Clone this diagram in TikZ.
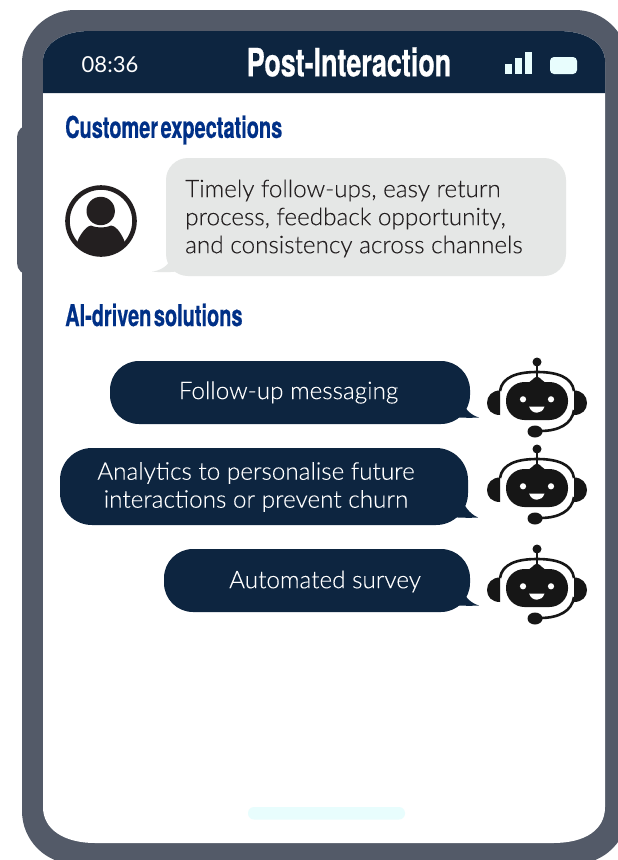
\documentclass[tikz,border=0pt]{standalone}
\usepackage{fontspec}
\setmainfont[FakeBold=0.12]{Lato Light}
\newfontfamily\clockfont{Lato}
\newfontfamily\condfont[FakeStretch=0.69,WordSpace=0.45,BoldFeatures={FakeBold=0.5}]{TeX Gyre Heros}
\newfontfamily\sectfont[FakeStretch=0.665,WordSpace=0.45,BoldFeatures={FakeBold=0.5}]{TeX Gyre Heros}
\definecolor{frameC}{HTML}{535A68}
\definecolor{navyC}{HTML}{0D2540}
\definecolor{greyC}{HTML}{E5E7E6}
\definecolor{headC}{HTML}{003087}
\definecolor{iceC}{HTML}{E8FDFD}
\definecolor{inkC}{HTML}{231F20}
\definecolor{botC}{HTML}{161616}
\tikzset{
  sechead/.style={anchor=west,inner sep=0pt,text=headC,font=\sectfont\bfseries\fontsize{30}{30}\selectfont},
  bodytext/.style={inner sep=0pt,align=left,text=inkC,font=\fontsize{24.3}{28}\selectfont},
  whitetext/.style={inner sep=0pt,align=center,text=white,font=\fontsize{24.3}{28}\selectfont},
  darkbubble/.style={fill=navyC,draw=none,rounded corners=29pt,inner sep=0pt},
  greybubble/.style={fill=greyC,draw=none,rounded corners=22pt,inner sep=0pt},
  robot/.pic={
    \fill[botC] (0,-38) circle [radius=4.5];
    \draw[botC,line width=2.6pt] (0,-36) -- (0,-20);
    \draw[botC,line width=2.6pt] (-37,-9) .. controls (-35,-23) and (-20,-28) .. (0,-28)
       .. controls (20,-28) and (35,-23) .. (37,-9);
    \fill[botC] (-37,-9.5) .. controls (-45,-9.5) and (-50,-4) .. (-50,3) .. controls (-50,10) and (-45,15) .. (-37,15) -- cycle;
    \fill[botC] (37,-9.5) .. controls (45,-9.5) and (50,-4) .. (50,3) .. controls (50,10) and (45,15) .. (37,15) -- cycle;
    \draw[botC,line width=2.6pt] (37,10) .. controls (35,24) and (22,31) .. (3,31);
    \fill[botC] (-2,31.5) ellipse [x radius=7.5,y radius=6];
    \fill[botC] (-11,-17) .. controls (-6,-17) and (-4,-22.5) .. (0,-23.5) .. controls (4,-22.5) and (6,-17) .. (11,-17) -- cycle;
    \fill[botC,rounded corners=18.5pt] (-31,-18) rectangle (31,20);
    \fill[white] (-14,-0.7) circle [radius=3.1];
    \fill[white] (14,-0.7) circle [radius=3.1];
    \fill[white] (-8,6.5) -- (7.5,6.5) .. controls (6,11) and (3,12.7) .. (0,12.7) .. controls (-3,12.7) and (-6.5,11) .. (-8,6.5) -- cycle;
  }
}
\begin{document}
\begin{tikzpicture}[x=1pt,y=-1pt]
\clip (0,0) rectangle (618,860);
\fill[white] (0,0) rectangle (618,860);
% side button and body
\fill[frameC,rounded corners=12pt] (17,125) rectangle (40,275);
\fill[frameC,rounded corners=53pt] (22,10) rectangle (628,864);
% screen
\fill[white] (43,62) .. controls (43,42) and (65,31) .. (90,31) -- (558,31)
  .. controls (585,31) and (605,42) .. (605,62) -- (605,807)
  .. controls (605,830) and (585,843) .. (553,843) -- (95,843)
  .. controls (65,843) and (43,830) .. (43,807) -- cycle;
% header
\fill[navyC] (43,62) .. controls (43,42) and (65,31) .. (90,31) -- (558,31)
  .. controls (585,31) and (605,42) .. (605,62) -- (605,93) -- (43,93) -- cycle;
\node[inner sep=0pt,text=white,font=\clockfont\fontsize{22}{22}\selectfont] (clock) at (110,65) {08:36};
\node[inner sep=0pt,text=white,font=\condfont\bfseries\fontsize{39}{39}\selectfont] (title) at (349,62) {Post-Interaction};
\fill[iceC] (505,64) rectangle (512,74);
\fill[iceC] (515,58) rectangle (522,74);
\fill[iceC] (525,52) rectangle (532,74);
\fill[iceC,rounded corners=4pt] (550,57) rectangle (577,74);
\fill[iceC,rounded corners=6pt] (248,807) rectangle (405,819.5);
% customer
\node[sechead] (cust) at (65,130) {Customer expectations};
\draw[inkC,line width=4.6pt] (101,221) circle [radius=33.5];
\begin{scope}
  \clip (101,221) circle [radius=33];
  \fill[inkC] (72,262) -- (78,240) .. controls (82,231) and (88,225.5) .. (91,225.5)
    .. controls (96,228) and (106,228) .. (111,225.5)
    .. controls (115,225.5) and (120,231) .. (124,240) -- (130,262) -- cycle;
\end{scope}
\fill[inkC] (100.7,211) circle [radius=14.2];
\fill[greyC] (172,250) -- (172,258) .. controls (168,266) and (160,271) .. (152,271.5)
  .. controls (165,273) and (175,272) .. (186,270) -- cycle;
\node[greybubble,minimum width=400pt,minimum height=118pt] (ask) at (366,217) {};
\node[bodytext,anchor=west] (asktxt) at (185,218.5) {Timely follow-ups, easy return\\process, feedback opportunity,\\and consistency across channels};
% solutions
\node[sechead] (sol) at (65,315) {AI-driven solutions};
\fill[navyC] (462,400) .. controls (465,410) and (471,415) .. (479,417.5) .. controls (470,418) and (458,418) .. (445,416) -- cycle;
\fill[navyC] (460,493) .. controls (463,506) and (470,514) .. (478,517.5) .. controls (470,518) and (458,518) .. (440,516) -- cycle;
\fill[navyC] (462,588) .. controls (465,598) and (471,603) .. (479,605.5) .. controls (470,606) and (458,606) .. (445,604) -- cycle;
\node[darkbubble,minimum width=360pt,minimum height=63pt] (b1) at (290,392.5) {};
\node[darkbubble,minimum width=408pt,minimum height=77pt,rounded corners=32pt] (b2) at (264,486.5) {};
\node[darkbubble,minimum width=306pt,minimum height=63pt] (b3) at (317,580.5) {};
\node[whitetext] (t1) at (288.5,392.5) {Follow-up messaging};
\node[whitetext] (t2) at (256,487) {Analytics to personalise future\\interactions or prevent churn};
\node[whitetext] (t3) at (325,581.5) {Automated survey};
\pic at (537,400) {robot};
\pic at (537,487) {robot};
\pic at (537,587) {robot};
\end{tikzpicture}
\end{document}
